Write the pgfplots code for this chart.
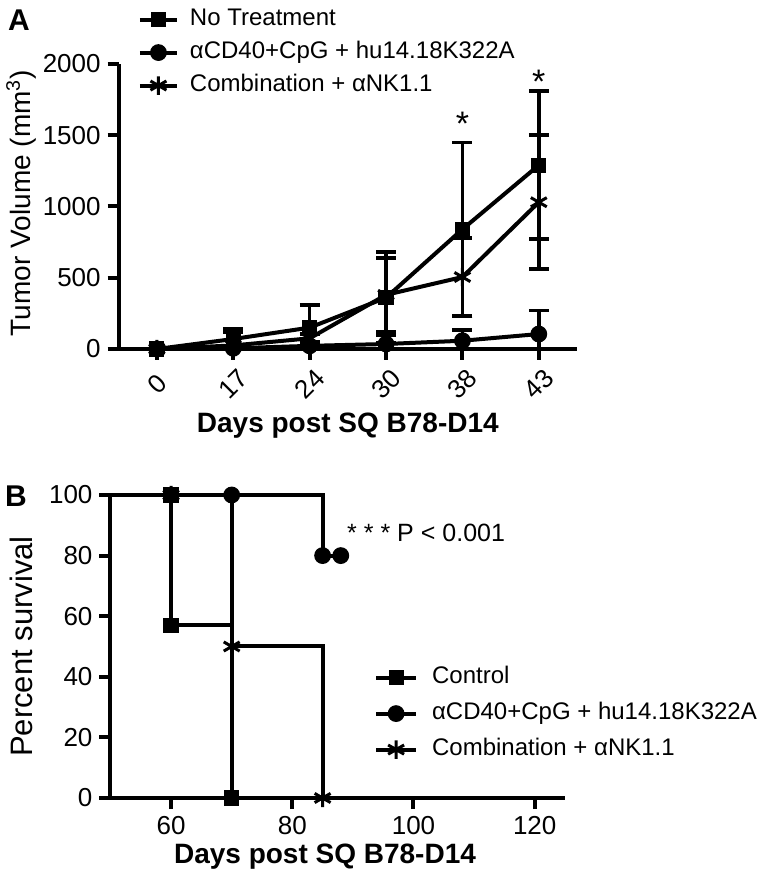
\documentclass[border=0pt]{standalone}
\usepackage{fontspec}
\setmainfont{Liberation Sans}
\usepackage{pgfplots}
\pgfplotsset{compat=1.18}
\usepackage{pgfplotstable}

\pgfplotstableread{
x y e
0 0 0
1 70 70
2 150 158
3 360 320
4 840 610
5 1290 520
}\notreat
\pgfplotstableread{
x y e
0 0 0
1 5 10
2 22 25
3 35 65
4 58 75
5 105 165
}\combo
\pgfplotstableread{
x y e
0 0 0
1 25 95
2 75 30
3 380 260
4 505 272
5 1030 470
}\nkdep

\pgfplotsset{
  gpstyle/.style={
    scale only axis,
    anchor=south west,
    axis lines=left,
    axis line style={-, line width=2pt, black},
    tick style={line width=2pt, black},
    tick align=outside,
    major tick length=5.5pt,
    minor tick num=0,
    tick label style={font=\fontsize{13}{15}\selectfont},
    /pgf/number format/assume math mode=true,
    /pgf/number format/set thousands separator={},
    scaled ticks=false,
    every axis plot/.append style={line width=2pt, black},
    legend cell align=left,
  },
  sq/.style={black, line width=2pt, mark=square*, mark size=3.3pt, mark options={line width=1pt, solid}},
  ci/.style={black, line width=2pt, mark=*, mark size=3.8pt, mark options={line width=0.8pt, solid}},
  st/.style={black, line width=2pt, mark=asterisk, mark size=4.6pt, mark options={line width=1.5pt, solid}},
}

\begin{document}
\begin{tikzpicture}[x=1pt,y=1pt]
\useasboundingbox (0,0) rectangle (387,447);

% ---------------- Panel A ----------------
\begin{axis}[gpstyle,
  at={(59.35pt,272.5pt)},
  width=229.15pt, height=142.5pt,
  xmin=-0.5, xmax=5.5, ymin=0, ymax=2000,
  xtick={0,1,2,3,4,5},
  xticklabels={0,17,24,30,38,43},
  ytick={0,500,1000,1500,2000},
  xticklabel style={yshift=-12pt, rotate=45, anchor=center},
  xlabel={Days post SQ B78-D14},
  xlabel style={font=\bfseries\fontsize{14}{16}\selectfont, at={(axis description cs:0.5,-0.27)}, anchor=center},
  ylabel={Tumor Volume (mm\textsuperscript{3})},
  ylabel style={font=\fontsize{14}{16}\selectfont, at={(axis description cs:-0.213,0.512)}, anchor=center},
  legend image code/.code={\draw[mark repeat=2,mark phase=2,#1] plot coordinates {(0pt,0pt)(9.25pt,0pt)(18.5pt,0pt)};},
  legend style={draw=none, fill=none, at={(axis description cs:0.042,1.198)}, anchor=north west,
    inner sep=0pt, outer sep=0pt, row sep=4.5pt, column sep=5.5pt,
    font=\fontsize{12}{14}\selectfont,
    nodes={inner sep=0pt, text height=9pt, text depth=3pt}},
  error bars/y dir=both, error bars/y explicit,
  error bars/error mark=|,
  error bars/error bar style={line width=1.8pt, black, solid},
  error bars/error mark options={line width=1.8pt, mark size=5pt, black},
]
\addplot[sq] table[x=x, y=y, y error=e] {\notreat};
\addlegendentry{No Treatment}
\addplot[ci] table[x=x, y=y, y error=e] {\combo};
\addlegendentry{αCD40+CpG + hu14.18K322A}
\addplot[st] table[x=x, y=y, y error=e] {\nkdep};
\addlegendentry{Combination + αNK1.1}
\node[font=\fontsize{17}{17}\selectfont] at (axis cs:4,1579) {*};
\node[font=\fontsize{17}{17}\selectfont] at (axis cs:5,1874) {*};
\end{axis}

% ---------------- Panel B ----------------
\begin{axis}[gpstyle,
  at={(55.25pt,48pt)},
  width=227.25pt, height=151.5pt,
  xmin=50, xmax=125, ymin=0, ymax=100,
  clip=false,
  xtick={60,80,100,120},
  ytick={0,20,40,60,80,100},
  xlabel={Days post SQ B78-D14},
  xlabel style={font=\bfseries\fontsize{14}{16}\selectfont, at={(axis description cs:0.472,-0.195)}, anchor=center},
  ylabel={Percent survival},
  ylabel style={font=\fontsize{15.5}{17}\selectfont, at={(axis description cs:-0.197,0.5)}, anchor=center},
  legend image code/.code={\draw[mark repeat=2,mark phase=2,#1] plot coordinates {(0pt,0pt)(10pt,0pt)(20pt,0pt)};},
  legend style={draw=none, fill=none, at={(axis description cs:0.58,0.437)}, anchor=north west,
    inner sep=0pt, outer sep=0pt, row sep=6pt, column sep=7pt,
    font=\fontsize{12}{14}\selectfont,
    nodes={inner sep=0pt, text height=9pt, text depth=3pt}},
]
\addplot[black, line width=2pt, const plot mark left, forget plot] coordinates {(50,100) (60,57) (70,0)};
\addplot[black, line width=2pt, const plot mark left, forget plot] coordinates {(50,100) (85,80) (88,80)};
\addplot[black, line width=2pt, const plot mark left, forget plot] coordinates {(50,100) (70,50) (85,0)};
\addplot[sq, only marks, forget plot] coordinates {(60,100) (60,57) (70,0)};
\addplot[ci, only marks, forget plot] coordinates {(70,100) (85,80) (88,80)};
\addplot[st, only marks, forget plot] coordinates {(60,100) (70,50) (85,0)};
\addlegendimage{sq}
\addlegendentry{Control}
\addlegendimage{ci}
\addlegendentry{αCD40+CpG + hu14.18K322A}
\addlegendimage{st}
\addlegendentry{Combination + αNK1.1}
\node[anchor=west, font=\fontsize{12.5}{14}\selectfont] at (axis cs:87.9,87.5) {* * * P < 0.001};
\end{axis}

\node[font=\bfseries\fontsize{15}{15}\selectfont] at (9.5,437) {A};
\node[font=\bfseries\fontsize{15}{15}\selectfont] at (8,199) {B};
\end{tikzpicture}
\end{document}
